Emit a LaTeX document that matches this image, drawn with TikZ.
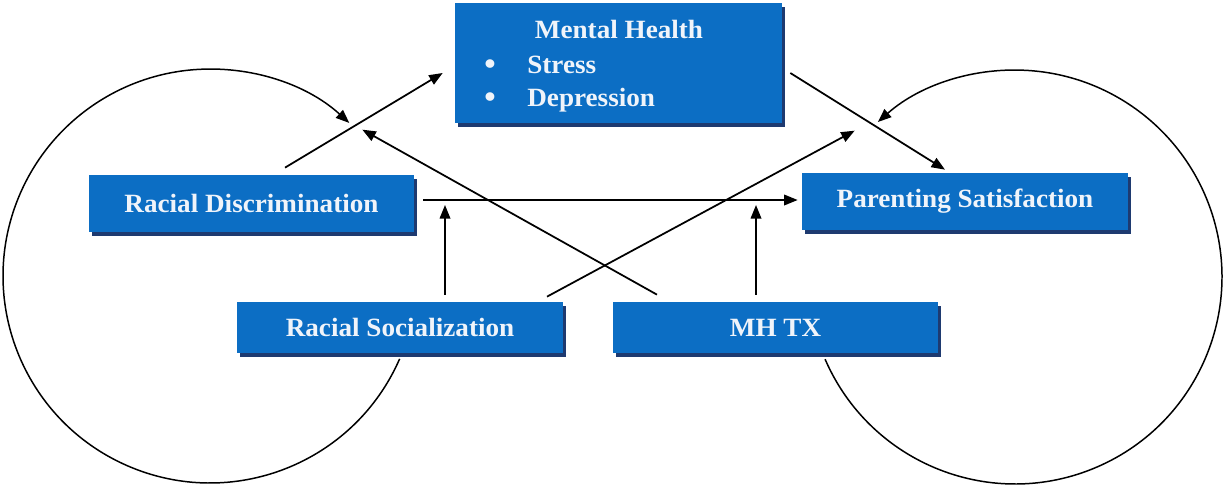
\documentclass[tikz,border=0pt]{standalone}
\usepackage{fontspec}
\setmainfont[FakeStretch=1.03]{Liberation Serif}
\usetikzlibrary{arrows.meta,shadows,calc}
\definecolor{boxblue}{RGB}{12,110,196}
\definecolor{boxshadow}{RGB}{30,58,112}
\definecolor{boxtext}{RGB}{240,244,250}
\begin{document}
\begin{tikzpicture}[x=0.02cm,y=0.02cm,
  box/.style={fill=boxblue, text=boxtext, font=\bfseries\fontsize{15}{18}\selectfont, inner sep=0pt,
    drop shadow={shadow xshift=0.06cm, shadow yshift=-0.08cm, fill=boxshadow, opacity=1}},
  mhtext/.style={text=boxtext, font=\bfseries\fontsize{15}{18}\selectfont, inner sep=0pt},
  arr/.style={-{Triangle[length=0.27cm,width=0.21cm]}, line width=1pt},
  loopline/.style={line width=0.85pt, -{Triangle[length=0.27cm,width=0.21cm]}}]
\useasboundingbox (0,0) rectangle (1226,485);
\fill[white] (0,0) rectangle (1226,485);

% boxes
\node[box, minimum width=6.54cm, minimum height=2.4cm] (MH) at (618.5,422) {};
\node[box, minimum width=6.5cm, minimum height=1.14cm] (RD) at (251.5,281.5) {Racial Discrimination};
\node[box, minimum width=6.52cm, minimum height=1.14cm] (PS) at (965,283.5) {Parenting Satisfaction};
\node[box, minimum width=6.52cm, minimum height=1.02cm] (RS) at (400,157.5) {Racial Socialization};
\node[box, minimum width=6.5cm, minimum height=1.02cm] (TX) at (775.5,157.5) {MH TX};

% mental health text
\node[mhtext, anchor=base] (MHt) at (619,447) {Mental Health};
\node[mhtext, anchor=base, scale=1.2] (b1) at (490,411) {\textbullet};
\node[mhtext, anchor=base west] (s1) at (527,412) {Stress};
\node[mhtext, anchor=base, scale=1.2] (b2) at (490,378) {\textbullet};
\node[mhtext, anchor=base west] (s2) at (527,379) {Depression};

% connectors
\draw[arr] ($(RD.north)+(33.5,7)$) -- ($(MH.west)+(-12,-10)$);
\coordinate (h1) at ($(RD.east)+(9,3.5)$);
\coordinate (h2) at ($(PS.west)+(-4,1.5)$);
\draw[arr] (h1) -- (h2);
\coordinate (v1s) at ($(RS.north)+(45,7)$);
\coordinate (v2s) at ($(TX.north)+(-19.5,7)$);
\coordinate (ve) at ($(h1)+(0,-5)$);
\draw[arr] (v1s) -- (v1s |- ve);
\draw[arr] (v2s) -- (v2s |- ve);
\draw[arr] ($(RS.north)+(147,5)$) -- ($(PS.north west)+(53,42)$);
\draw[arr] ($(TX.north)+(-118.5,7)$) -- ($(RD.north east)+(-52,45)$);
\draw[arr] ($(MH.east)+(8,-10)$) -- ($(PS.north)+(-20,3)$);

% feedback loops
\draw[loopline] ([shift={(210,209)}]-23.6:4.14cm) arc[start angle=-23.6, end angle=-312.3, radius=4.14cm];
\draw[loopline] ([shift={(1015,208)}]203.4:4.14cm) arc[start angle=203.4, end angle=491.5, radius=4.14cm];
\end{tikzpicture}
\end{document}
